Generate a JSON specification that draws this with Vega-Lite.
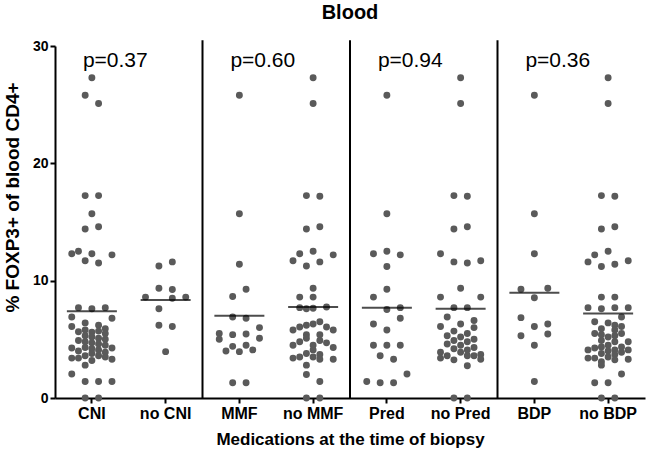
{
  "$schema": "https://vega.github.io/schema/vega-lite/v6.json",
  "width": 590,
  "height": 352,
  "autosize": {"type": "none"},
  "padding": {"left": 55, "top": 46, "right": 9, "bottom": 57},
  "background": "white",
  "title": {"text": "Blood", "font": "Liberation Sans", "fontSize": 20, "fontWeight": "bold", "color": "black", "offset": 16},
  "datasets": {
    "dots": [
      {"g":"CNI","v":27.3,"dx":0},{"g":"CNI","v":25.8,"dx":-1},{"g":"CNI","v":25.1,"dx":1},{"g":"CNI","v":17.25,"dx":-1},{"g":"CNI","v":17.25,"dx":1},{"g":"CNI","v":15.7,"dx":0},{"g":"CNI","v":14.4,"dx":-1},{"g":"CNI","v":14.6,"dx":1},{"g":"CNI","v":12.3,"dx":-3},{"g":"CNI","v":12.5,"dx":-2},{"g":"CNI","v":12.3,"dx":0},{"g":"CNI","v":12.2,"dx":3},{"g":"CNI","v":11.7,"dx":-1},{"g":"CNI","v":11.5,"dx":1},{"g":"CNI","v":7.7,"dx":-2},{"g":"CNI","v":7.6,"dx":0},{"g":"CNI","v":7.7,"dx":2},{"g":"CNI","v":6.9,"dx":-3},{"g":"CNI","v":6.8,"dx":3},
      {"g":"CNI","v":6.1,"dx":-3},{"g":"CNI","v":6.4,"dx":-1},{"g":"CNI","v":6.2,"dx":1},{"g":"CNI","v":5.9,"dx":2},{"g":"CNI","v":5.8,"dx":-1},{"g":"CNI","v":5.65,"dx":-2},{"g":"CNI","v":5.6,"dx":0},{"g":"CNI","v":5.7,"dx":1},{"g":"CNI","v":5.5,"dx":2},{"g":"CNI","v":5.3,"dx":-1},{"g":"CNI","v":5.2,"dx":0},{"g":"CNI","v":5.1,"dx":1},{"g":"CNI","v":5.0,"dx":2},{"g":"CNI","v":4.9,"dx":-2},{"g":"CNI","v":4.8,"dx":-1},{"g":"CNI","v":4.7,"dx":0},{"g":"CNI","v":4.6,"dx":1},{"g":"CNI","v":4.5,"dx":2},{"g":"CNI","v":4.26,"dx":-3},{"g":"CNI","v":4.26,"dx":3},{"g":"CNI","v":4.3,"dx":-1},{"g":"CNI","v":4.2,"dx":0},{"g":"CNI","v":4.1,"dx":1},{"g":"CNI","v":4.0,"dx":-2},{"g":"CNI","v":3.9,"dx":2},{"g":"CNI","v":3.8,"dx":0},{"g":"CNI","v":3.6,"dx":-1},{"g":"CNI","v":3.6,"dx":1},{"g":"CNI","v":3.4,"dx":-3},{"g":"CNI","v":3.3,"dx":3},{"g":"CNI","v":3.4,"dx":-2},{"g":"CNI","v":3.5,"dx":2},{"g":"CNI","v":3.2,"dx":0},
      {"g":"CNI","v":2.8,"dx":-1},{"g":"CNI","v":2.05,"dx":-3},{"g":"CNI","v":1.4,"dx":-1},{"g":"CNI","v":1.4,"dx":1},{"g":"CNI","v":1.4,"dx":3},{"g":"CNI","v":0,"dx":-1},{"g":"CNI","v":0,"dx":1},
      {"g":"no CNI","v":11.25,"dx":-1},{"g":"no CNI","v":11.6,"dx":1},{"g":"no CNI","v":9.35,"dx":-1},{"g":"no CNI","v":9.25,"dx":1},{"g":"no CNI","v":8.6,"dx":-3},{"g":"no CNI","v":8.5,"dx":1},{"g":"no CNI","v":8.6,"dx":3},{"g":"no CNI","v":7.6,"dx":-1},{"g":"no CNI","v":6.2,"dx":-1},{"g":"no CNI","v":6.1,"dx":1},{"g":"no CNI","v":3.95,"dx":0},
      {"g":"MMF","v":25.8,"dx":0},{"g":"MMF","v":15.7,"dx":0},{"g":"MMF","v":11.4,"dx":0},{"g":"MMF","v":8.65,"dx":-1},{"g":"MMF","v":9.27,"dx":1},{"g":"MMF","v":6.9,"dx":-1},{"g":"MMF","v":6.8,"dx":1},{"g":"MMF","v":6.0,"dx":3},{"g":"MMF","v":5.5,"dx":-3},{"g":"MMF","v":5.4,"dx":-1},{"g":"MMF","v":5.45,"dx":1},{"g":"MMF","v":5.1,"dx":3},{"g":"MMF","v":5.0,"dx":-3},{"g":"MMF","v":4.0,"dx":-2},{"g":"MMF","v":4.4,"dx":-1},{"g":"MMF","v":3.95,"dx":0},{"g":"MMF","v":4.5,"dx":1},{"g":"MMF","v":4.1,"dx":2},{"g":"MMF","v":1.3,"dx":-1},{"g":"MMF","v":1.3,"dx":1},
      {"g":"no MMF","v":27.3,"dx":0},{"g":"no MMF","v":25.1,"dx":0},{"g":"no MMF","v":17.25,"dx":-1},{"g":"no MMF","v":17.2,"dx":1},{"g":"no MMF","v":14.4,"dx":-1},{"g":"no MMF","v":14.6,"dx":1},{"g":"no MMF","v":12.3,"dx":-2},{"g":"no MMF","v":12.5,"dx":0},{"g":"no MMF","v":12.2,"dx":3},{"g":"no MMF","v":11.7,"dx":-3},{"g":"no MMF","v":11.6,"dx":1},{"g":"no MMF","v":11.25,"dx":-1},{"g":"no MMF","v":9.35,"dx":0},{"g":"no MMF","v":8.6,"dx":-2},{"g":"no MMF","v":8.6,"dx":0},{"g":"no MMF","v":7.7,"dx":-2},{"g":"no MMF","v":7.6,"dx":-1},{"g":"no MMF","v":7.65,"dx":0},{"g":"no MMF","v":7.75,"dx":2},
      {"g":"no MMF","v":5.8,"dx":-3},{"g":"no MMF","v":6.05,"dx":-2},{"g":"no MMF","v":6.2,"dx":-1},{"g":"no MMF","v":6.3,"dx":0},{"g":"no MMF","v":6.5,"dx":1},{"g":"no MMF","v":6.05,"dx":2},{"g":"no MMF","v":5.8,"dx":3},{"g":"no MMF","v":5.4,"dx":-1},{"g":"no MMF","v":5.4,"dx":1},{"g":"no MMF","v":4.5,"dx":-3},{"g":"no MMF","v":4.8,"dx":-2},{"g":"no MMF","v":5.1,"dx":-1},{"g":"no MMF","v":4.5,"dx":0},{"g":"no MMF","v":4.9,"dx":1},{"g":"no MMF","v":4.7,"dx":2},{"g":"no MMF","v":4.3,"dx":3},{"g":"no MMF","v":3.4,"dx":-3},{"g":"no MMF","v":3.5,"dx":-2},{"g":"no MMF","v":3.8,"dx":-1},{"g":"no MMF","v":4.1,"dx":0},{"g":"no MMF","v":3.7,"dx":1},{"g":"no MMF","v":3.3,"dx":3},{"g":"no MMF","v":3.5,"dx":0},{"g":"no MMF","v":3.3,"dx":1},{"g":"no MMF","v":2.8,"dx":-1},{"g":"no MMF","v":2.0,"dx":-1},{"g":"no MMF","v":1.4,"dx":1},{"g":"no MMF","v":0,"dx":-1},{"g":"no MMF","v":0,"dx":1},
      {"g":"Pred","v":25.8,"dx":0},{"g":"Pred","v":15.7,"dx":0},{"g":"Pred","v":12.3,"dx":-2},{"g":"Pred","v":12.5,"dx":0},{"g":"Pred","v":12.2,"dx":2},{"g":"Pred","v":11.2,"dx":0},{"g":"Pred","v":9.27,"dx":0},{"g":"Pred","v":8.6,"dx":-2},{"g":"Pred","v":7.55,"dx":0},{"g":"Pred","v":7.7,"dx":2},{"g":"Pred","v":6.8,"dx":2},{"g":"Pred","v":6.3,"dx":-2},{"g":"Pred","v":5.8,"dx":0},{"g":"Pred","v":4.5,"dx":-2},{"g":"Pred","v":4.5,"dx":0},{"g":"Pred","v":4.5,"dx":2},{"g":"Pred","v":3.6,"dx":-1},{"g":"Pred","v":3.3,"dx":1},{"g":"Pred","v":2.05,"dx":3},{"g":"Pred","v":1.4,"dx":-3},{"g":"Pred","v":1.3,"dx":-1},{"g":"Pred","v":1.3,"dx":1},
      {"g":"no Pred","v":27.3,"dx":0},{"g":"no Pred","v":25.1,"dx":0},{"g":"no Pred","v":17.25,"dx":-1},{"g":"no Pred","v":17.2,"dx":1},{"g":"no Pred","v":14.4,"dx":-1},{"g":"no Pred","v":14.6,"dx":1},{"g":"no Pred","v":12.3,"dx":-3},{"g":"no Pred","v":11.6,"dx":-1},{"g":"no Pred","v":11.5,"dx":1},{"g":"no Pred","v":11.7,"dx":3},{"g":"no Pred","v":9.35,"dx":0},{"g":"no Pred","v":8.6,"dx":-3},{"g":"no Pred","v":8.6,"dx":3},{"g":"no Pred","v":7.7,"dx":-1},{"g":"no Pred","v":7.7,"dx":1},{"g":"no Pred","v":6.9,"dx":-2},{"g":"no Pred","v":6.6,"dx":2},
      {"g":"no Pred","v":6.1,"dx":-3},{"g":"no Pred","v":6.3,"dx":0},{"g":"no Pred","v":6.0,"dx":2},{"g":"no Pred","v":5.7,"dx":-1},{"g":"no Pred","v":5.5,"dx":1},{"g":"no Pred","v":5.3,"dx":-2},{"g":"no Pred","v":5.2,"dx":0},{"g":"no Pred","v":5.0,"dx":2},{"g":"no Pred","v":4.9,"dx":-1},{"g":"no Pred","v":4.8,"dx":1},{"g":"no Pred","v":4.6,"dx":-2},{"g":"no Pred","v":4.5,"dx":0},{"g":"no Pred","v":4.3,"dx":2},{"g":"no Pred","v":4.2,"dx":-1},{"g":"no Pred","v":4.1,"dx":1},{"g":"no Pred","v":3.9,"dx":-3},{"g":"no Pred","v":3.9,"dx":0},{"g":"no Pred","v":3.7,"dx":3},{"g":"no Pred","v":3.6,"dx":-2},{"g":"no Pred","v":3.6,"dx":2},{"g":"no Pred","v":3.4,"dx":-3},{"g":"no Pred","v":3.25,"dx":-1},{"g":"no Pred","v":3.6,"dx":1},{"g":"no Pred","v":3.3,"dx":3},
      {"g":"no Pred","v":2.75,"dx":1},{"g":"no Pred","v":0,"dx":-1},{"g":"no Pred","v":0,"dx":1},
      {"g":"BDP","v":25.8,"dx":0},{"g":"BDP","v":15.7,"dx":0},{"g":"BDP","v":12.3,"dx":0},{"g":"BDP","v":9.27,"dx":-2},{"g":"BDP","v":9.35,"dx":2},{"g":"BDP","v":8.55,"dx":0},{"g":"BDP","v":6.85,"dx":-2},{"g":"BDP","v":6.1,"dx":0},{"g":"BDP","v":6.3,"dx":2},{"g":"BDP","v":5.3,"dx":-2},{"g":"BDP","v":5.45,"dx":2},{"g":"BDP","v":4.5,"dx":0},{"g":"BDP","v":1.4,"dx":0},
      {"g":"no BDP","v":27.3,"dx":0},{"g":"no BDP","v":25.1,"dx":0},{"g":"no BDP","v":17.25,"dx":-1},{"g":"no BDP","v":17.2,"dx":1},{"g":"no BDP","v":14.4,"dx":-1},{"g":"no BDP","v":14.6,"dx":1},{"g":"no BDP","v":11.6,"dx":-3},{"g":"no BDP","v":12.2,"dx":-2},{"g":"no BDP","v":12.5,"dx":0},{"g":"no BDP","v":11.7,"dx":3},{"g":"no BDP","v":11.2,"dx":-1},{"g":"no BDP","v":11.4,"dx":1},{"g":"no BDP","v":8.6,"dx":-1},{"g":"no BDP","v":8.6,"dx":1},{"g":"no BDP","v":7.7,"dx":-3},{"g":"no BDP","v":7.6,"dx":-1},{"g":"no BDP","v":7.7,"dx":1},{"g":"no BDP","v":7.7,"dx":3},{"g":"no BDP","v":6.9,"dx":2},
      {"g":"no BDP","v":6.5,"dx":-2},{"g":"no BDP","v":6.4,"dx":0},{"g":"no BDP","v":6.2,"dx":1},{"g":"no BDP","v":6.1,"dx":2},{"g":"no BDP","v":5.9,"dx":-1},{"g":"no BDP","v":5.8,"dx":1},{"g":"no BDP","v":5.5,"dx":-2},{"g":"no BDP","v":5.4,"dx":-1},{"g":"no BDP","v":5.2,"dx":0},{"g":"no BDP","v":5.5,"dx":2},{"g":"no BDP","v":5.3,"dx":1},{"g":"no BDP","v":4.9,"dx":-1},{"g":"no BDP","v":4.8,"dx":1},{"g":"no BDP","v":4.8,"dx":3},{"g":"no BDP","v":4.1,"dx":-3},{"g":"no BDP","v":4.26,"dx":-2},{"g":"no BDP","v":4.35,"dx":-1},{"g":"no BDP","v":4.5,"dx":0},{"g":"no BDP","v":4.1,"dx":1},{"g":"no BDP","v":4.35,"dx":2},{"g":"no BDP","v":4.1,"dx":3},{"g":"no BDP","v":4.0,"dx":0},{"g":"no BDP","v":3.8,"dx":-1},{"g":"no BDP","v":3.7,"dx":1},{"g":"no BDP","v":3.9,"dx":2},{"g":"no BDP","v":3.4,"dx":-3},{"g":"no BDP","v":3.4,"dx":-2},{"g":"no BDP","v":3.5,"dx":0},{"g":"no BDP","v":3.25,"dx":1},{"g":"no BDP","v":3.3,"dx":3},{"g":"no BDP","v":3.1,"dx":-1},
      {"g":"no BDP","v":2.8,"dx":-1},{"g":"no BDP","v":2.05,"dx":2},{"g":"no BDP","v":1.3,"dx":-2},{"g":"no BDP","v":1.3,"dx":0},{"g":"no BDP","v":0,"dx":-1},{"g":"no BDP","v":0,"dx":1}
    ],
    "means": [
      {"g":"CNI","mean":7.4},{"g":"no CNI","mean":8.35},{"g":"MMF","mean":7.0},{"g":"no MMF","mean":7.76},
      {"g":"Pred","mean":7.7},{"g":"no Pred","mean":7.6},{"g":"BDP","mean":8.98},{"g":"no BDP","mean":7.2}
    ],
    "seps": [{"g":"no CNI"},{"g":"no MMF"},{"g":"no Pred"}],
    "pvals": [
      {"g":"CNI","label":"p=0.37"},{"g":"MMF","label":"p=0.60"},{"g":"Pred","label":"p=0.94"},{"g":"BDP","label":"p=0.36"}
    ]
  },
  "layer": [
    {
      "data": {"name": "seps"},
      "mark": {"type": "rule", "color": "black", "strokeWidth": 2},
      "encoding": {
        "x": {"field": "g", "type": "nominal", "bandPosition": 1, "sort": ["CNI","no CNI","MMF","no MMF","Pred","no Pred","BDP","no BDP"], "scale": {"paddingInner": 0, "paddingOuter": 0}, "title": "Medications at the time of biopsy"},
        "y": {"datum": 0, "type": "quantitative", "scale": {"domain": [0, 30], "nice": false}, "title": "% FOXP3+ of blood CD4+", "axis": {"values": [0, 10, 20, 30]}},
        "y2": {"datum": 30.5}
      }
    },
    {
      "data": {"name": "dots"},
      "mark": {"type": "circle", "color": "#5a5a5a", "opacity": 1, "size": 48},
      "encoding": {
        "x": {"field": "g", "type": "nominal", "sort": ["CNI","no CNI","MMF","no MMF","Pred","no Pred","BDP","no BDP"], "scale": {"paddingInner": 0, "paddingOuter": 0}, "title": "Medications at the time of biopsy"},
        "xOffset": {"field": "dx", "type": "quantitative", "scale": {"domain": [-5.5, 5.5]}},
        "y": {"field": "v", "type": "quantitative", "scale": {"domain": [0, 30], "nice": false}, "title": "% FOXP3+ of blood CD4+", "axis": {"values": [0, 10, 20, 30]}}
      }
    },
    {
      "data": {"name": "means"},
      "mark": {"type": "tick", "color": "black", "thickness": 2, "size": 50, "orient": "horizontal"},
      "encoding": {
        "x": {"field": "g", "type": "nominal", "sort": ["CNI","no CNI","MMF","no MMF","Pred","no Pred","BDP","no BDP"], "scale": {"paddingInner": 0, "paddingOuter": 0}, "title": "Medications at the time of biopsy"},
        "y": {"field": "mean", "type": "quantitative", "scale": {"domain": [0, 30], "nice": false}, "title": "% FOXP3+ of blood CD4+", "axis": {"values": [0, 10, 20, 30]}}
      }
    },
    {
      "data": {"name": "pvals"},
      "mark": {"type": "text", "align": "left", "baseline": "alphabetic", "dx": -9, "font": "Liberation Sans", "fontSize": 21, "color": "black"},
      "encoding": {
        "x": {"field": "g", "type": "nominal", "sort": ["CNI","no CNI","MMF","no MMF","Pred","no Pred","BDP","no BDP"], "scale": {"paddingInner": 0, "paddingOuter": 0}, "title": "Medications at the time of biopsy"},
        "y": {"datum": 28.2, "type": "quantitative", "scale": {"domain": [0, 30], "nice": false}, "title": "% FOXP3+ of blood CD4+", "axis": {"values": [0, 10, 20, 30]}},
        "text": {"field": "label"}
      }
    }
  ],
  "config": {
    "view": {"stroke": null},
    "axis": {
      "grid": false,
      "domainColor": "black", "domainWidth": 2,
      "tickColor": "black", "tickWidth": 2, "tickSize": 5,
      "labelFont": "Liberation Sans", "labelFontWeight": "bold", "labelColor": "black",
      "titleFont": "Liberation Sans", "titleFontWeight": "bold", "titleColor": "black"
    },
    "axisX": {"labelAngle": 0, "labelFontSize": 16, "labelPadding": 2, "titleFontSize": 17, "titlePadding": 10},
    "axisY": {"labelFontSize": 14, "titleFontSize": 19, "titleX": -43, "titleY": 151, "titleAlign": "center", "titleBaseline": "middle"}
  }
}
